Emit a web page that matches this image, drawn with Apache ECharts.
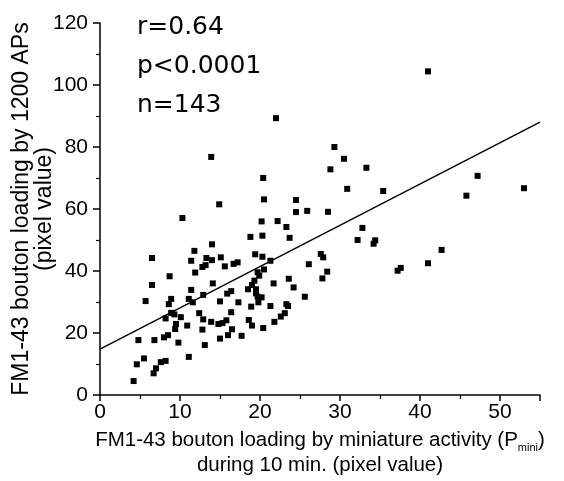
<!DOCTYPE html>
<html>
<head>
<meta charset="utf-8">
<script src="https://cdn.jsdelivr.net/npm/echarts@6/dist/echarts.min.js"></script>
<style>
  html, body { margin: 0; padding: 0; background: #fff; }
  #main { width: 564px; height: 481px; }
</style>
</head>
<body>
<div id="main"></div>
<script>
// miniature-activity loading (x) vs 1200 AP loading (y), pixel values
var pMini = [
  6.5, 11.8, 11.4, 12.8, 11.9, 8.7, 6.5, 11.4, 12.9, 8.9, 5.7, 11.1, 11.6, 8.6, 8.9, 9.3, 10.1, 8.2, 12.4, 12.9,
  9.5, 9.4, 10.9, 12.8, 4.8, 6.8, 8.0, 8.5, 9.8, 13.1, 5.5, 4.6, 11.1, 7.6, 8.2, 7.0, 6.7, 4.2,
  10.3,
  13.3, 14.0, 15.1, 13.2, 15.6, 16.7, 17.2, 19.4, 20.3, 21.3, 20.5, 19.7, 19.9, 26.1, 14.1, 19.3, 19.0, 21.7, 23.6, 24.2,
  18.5, 19.5, 19.5, 15.9, 16.4, 19.7, 20.2, 19.8, 15.0, 17.3, 18.9, 21.3, 23.3, 23.5, 25.6, 16.4, 13.9, 14.8, 15.3, 15.8,
  18.6, 19.0, 21.8, 22.6, 23.1, 20.4, 16.5, 16.0, 15.0, 17.7,
  22.0, 13.9, 20.4, 20.5, 14.9, 24.5, 24.5, 25.9, 20.2, 22.2, 23.3, 18.8, 20.3, 23.7, 14.0,
  29.3, 30.5, 28.8, 33.3, 30.9, 35.4, 28.5, 32.8, 32.2, 34.4, 34.2, 27.6, 27.9, 28.4, 27.8, 37.2, 37.6, 41.0,
  41.0, 47.2, 45.8, 53.0, 42.7
];
var ap1200 = [
  44.2, 46.5, 43.3, 41.3, 39.5, 38.3, 35.5, 33.9, 32.3, 31.0, 30.3, 31.0, 29.9, 29.3, 26.5, 26.0, 25.1, 24.7, 26.4, 24.4,
  22.9, 21.3, 22.4, 21.1, 17.7, 17.7, 18.6, 19.3, 16.9, 16.1, 11.8, 9.9, 12.3, 10.6, 11.0, 8.6, 7.0, 4.5,
  57.1,
  44.2, 43.5, 44.4, 41.9, 41.5, 42.3, 42.8, 45.4, 44.6, 43.3, 40.5, 39.6, 38.5, 42.2, 36.0, 36.9, 35.5, 36.0, 37.5, 34.7,
  34.1, 34.1, 32.8, 32.7, 33.5, 31.7, 31.5, 29.9, 30.2, 29.9, 28.5, 28.7, 29.3, 28.7, 31.7, 26.7, 23.6, 22.9, 23.2, 24.1,
  24.2, 22.4, 23.6, 25.3, 26.4, 21.6, 21.2, 19.3, 18.2, 19.1,
  89.3, 76.8, 70.0, 63.1, 61.5, 62.9, 59.0, 59.4, 56.0, 56.1, 54.2, 51.0, 51.4, 50.7, 48.6,
  80.0, 76.2, 72.8, 73.3, 66.5, 65.8, 59.1, 53.9, 50.0, 49.9, 48.8, 45.5, 44.4, 39.8, 37.6, 40.1, 41.0, 42.5,
  104.4, 70.7, 64.3, 66.7, 46.8
];
// regression line end points
var fitX = [0, 55];
var fitY = [14.8, 88];
var statsText = ['r=0.64', 'p<0.0001', 'n=143'];
var yTitle = ['FM1-43 bouton loading by 1200 APs', '(pixel value)'];

var points = pMini.map(function (x, i) { return [x, ap1200[i]]; });
var fitLine = fitX.map(function (x, i) { return [x, fitY[i]]; });

var FONT = 'Liberation Sans, Arial, sans-serif';
var chart = echarts.init(document.getElementById('main'));

var graphics = statsText.map(function (t, i) {
  return {
    type: 'text',
    left: 137,
    top: 15 + i * 39,
    style: { text: t, fill: '#000', font: '25px DejaVu Sans, ' + FONT }
  };
});
// rotated y-axis title, two lines
yTitle.forEach(function (t, i) {
  graphics.push({
    type: 'text',
    x: 22 + i * 23,
    y: 209,
    rotation: Math.PI / 2,
    style: { text: t, fill: '#000', font: '23px ' + FONT, align: 'center', verticalAlign: 'middle' }
  });
});

var option = {
  backgroundColor: '#fff',
  animation: false,
  grid: { left: 100, right: 24, top: 23, bottom: 86, containLabel: false, outerBoundsMode: 'none' },
  xAxis: {
    type: 'value',
    min: 0, max: 55, interval: 10,
    name: '{a|FM1-43 bouton loading by miniature activity (P}{s|mini}{a|)}\n{a|during 10 min. (pixel value)}',
    nameLocation: 'middle',
    nameGap: 33,
    nameTextStyle: {
      rich: {
        a: { fontFamily: FONT, fontSize: 20.5, color: '#000', lineHeight: 25 },
        s: { fontFamily: FONT, fontSize: 11, color: '#000', verticalAlign: 'bottom', lineHeight: 18 }
      }
    },
    axisLine: { lineStyle: { color: '#000', width: 1.5 } },
    axisTick: { length: 6, lineStyle: { color: '#000', width: 1.5 } },
    minorTick: { show: true, splitNumber: 2, length: 4, lineStyle: { color: '#000', width: 1.2 } },
    axisLabel: { color: '#000', fontFamily: FONT, fontSize: 21, margin: 7, showMaxLabel: false },
    splitLine: { show: false }
  },
  yAxis: {
    type: 'value',
    min: 0, max: 120, interval: 20,
    axisLine: { lineStyle: { color: '#000', width: 1.5 } },
    axisTick: { length: 7, lineStyle: { color: '#000', width: 1.5 } },
    minorTick: { show: true, splitNumber: 2, length: 4, lineStyle: { color: '#000', width: 1.2 } },
    axisLabel: { color: '#000', fontFamily: FONT, fontSize: 21, margin: 12 },
    splitLine: { show: false }
  },
  graphic: graphics,
  series: [
    {
      type: 'scatter',
      data: points,
      symbol: 'rect',
      symbolSize: 6,
      itemStyle: { color: '#000', opacity: 1 }
    },
    {
      type: 'line',
      data: fitLine,
      symbol: 'none',
      lineStyle: { color: '#000', width: 1.4 }
    }
  ]
};

chart.setOption(option);
</script>
</body>
</html>
